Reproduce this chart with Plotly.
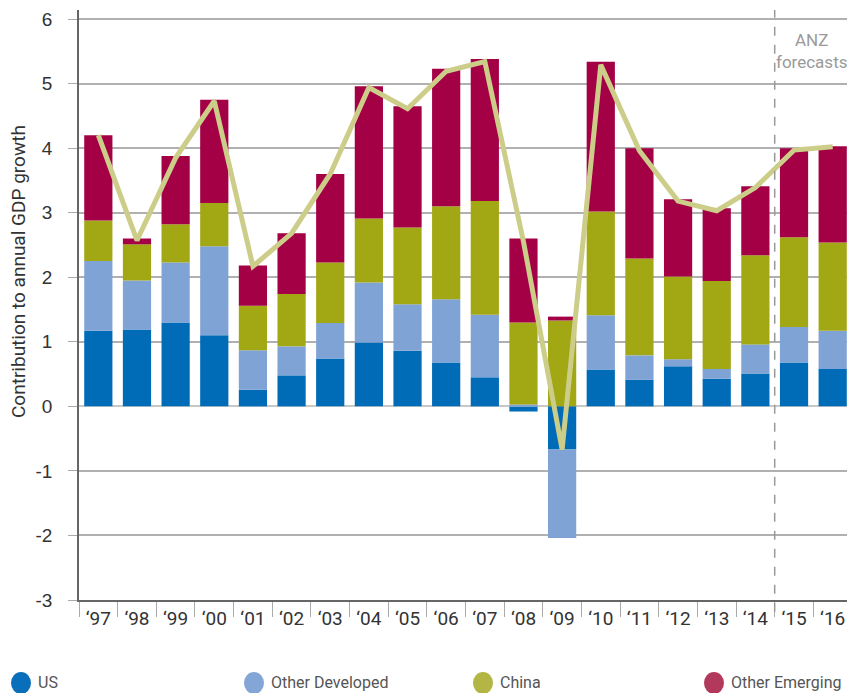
import plotly.graph_objects as go

years = ["‘97", "‘98", "‘99", "‘00", "‘01", "‘02", "‘03", "‘04", "‘05", "‘06",
         "‘07", "‘08", "‘09", "‘10", "‘11", "‘12", "‘13", "‘14", "‘15", "‘16"]

us = [1.17, 1.19, 1.30, 1.10, 0.26, 0.48, 0.74, 0.99, 0.86, 0.68,
      0.45, -0.08, -0.67, 0.57, 0.41, 0.62, 0.43, 0.51, 0.68, 0.58]
other_dev = [1.08, 0.76, 0.93, 1.38, 0.61, 0.45, 0.55, 0.93, 0.72, 0.98,
             0.97, 0.03, -1.37, 0.84, 0.38, 0.11, 0.15, 0.45, 0.55, 0.59]
china = [0.63, 0.56, 0.59, 0.67, 0.69, 0.81, 0.94, 0.99, 1.19, 1.44,
         1.76, 1.27, 1.33, 1.61, 1.50, 1.28, 1.36, 1.38, 1.39, 1.37]
other_em = [1.32, 0.09, 1.06, 1.60, 0.62, 0.94, 1.37, 2.05, 1.88, 2.13,
            2.20, 1.30, 0.06, 2.32, 1.71, 1.20, 1.13, 1.07, 1.38, 1.49]
world = [4.20, 2.57, 3.85, 4.73, 2.17, 2.68, 3.60, 4.94, 4.61, 5.19,
         5.34, 2.55, -0.67, 5.29, 3.96, 3.18, 3.03, 3.39, 3.97, 4.02]

y_ticks = [-3, -2, -1, 0, 1, 2, 3, 4, 5, 6]
y_tick_text = ["-3", "-2", "-1", "0", "1", "2", "3", "4", "5", "6"]

series = [("US", us, "#006bb6", "#0a6fba"),
          ("Other Developed", other_dev, "#7fa3d5", "#83a6d6"),
          ("China", china, "#a2a714", "#b3b645"),
          ("Other Emerging", other_em, "#a30046", "#b3395c")]

font_main = "Roboto, Lato, sans-serif"

# page body has an 8px margin: shrink figure so the plot lands where the reference has it
W, H = 847, 685
ML, MR, MT, MB = 71, 3, 2, 93
PW = W - ML - MR
PH = H - MT - MB
X0S, Y0S = 79, 600  # screen position of plot-area bottom-left


def px_x(sx):
    return (sx - X0S) / PW


def px_y(sy):
    return (Y0S - sy) / PH


fig = go.Figure()
for name, vals, col, _ in series:
    fig.add_trace(go.Bar(x=years, y=vals, name=name, marker_color=col,
                         marker_line_width=0, showlegend=False))

fig.add_trace(go.Scatter(x=years, y=world, mode="lines",
                         line=dict(color="#cdcd8a", width=5),
                         showlegend=False, hoverinfo="skip"))

# legend drawn as circles + text
legend_cx = [21, 254, 483, 714]
legend_cy = 683
for (name, vals, col, lcol), cx in zip(series, legend_cx):
    fig.add_shape(type="circle", xref="paper", yref="paper",
                  x0=px_x(cx - 10), x1=px_x(cx + 10),
                  y0=px_y(legend_cy + 11), y1=px_y(legend_cy - 11),
                  fillcolor=lcol, line=dict(width=0))
    fig.add_annotation(x=px_x(cx + 15), y=px_y(legend_cy), xref="paper", yref="paper",
                       text=name, showarrow=False, xanchor="left", yanchor="middle",
                       font=dict(family=font_main, size=16, color="#555555"))

fig.add_shape(type="line", xref="x", yref="paper", x0=17.5, x1=17.5, y0=-0.02, y1=1,
              line=dict(color="#999999", width=1.5, dash="dash"))

fig.add_annotation(x=18.45, y=5.5, xref="x", yref="y", text="ANZ<br>forecasts",
                   showarrow=False, font=dict(family=font_main, size=17, color="#9a9a9a"),
                   align="center")

fig.add_annotation(x=px_x(18), y=px_y(272), xref="paper", yref="paper",
                   text="Contribution to annual GDP growth", textangle=-90,
                   showarrow=False, xanchor="center", yanchor="middle",
                   font=dict(family=font_main, size=19, color="#333333"))

fig.update_layout(
    width=W, height=H,
    barmode="relative", bargap=0.27,
    plot_bgcolor="white", paper_bgcolor="white",
    margin=dict(l=ML, r=MR, t=MT, b=MB, autoexpand=False),
    font=dict(family=font_main, color="#333333"),
    showlegend=False,
)

fig.update_xaxes(type="category", showgrid=False, ticks="outside", tickson="boundaries",
                 ticklen=15, tickcolor="#aaaaaa", tickwidth=1, automargin=False,
                 showline=True, linecolor="#666666", linewidth=1.5,
                 tickfont=dict(family=font_main, size=19, color="#333333"),
                 range=[-0.5, 19.5])

fig.update_yaxes(range=[-3, 6.14], tickvals=y_ticks, ticktext=y_tick_text, showgrid=True,
                 gridcolor="#b0b0b0", gridwidth=1.5, zeroline=True,
                 zerolinecolor="#c8c8c8", zerolinewidth=2, automargin=False,
                 showline=True, linecolor="#666666", linewidth=1.5,
                 ticks="outside", ticklen=9, tickcolor="#aaaaaa", ticklabelstandoff=12,
                 tickfont=dict(family="Liberation Sans, Arial, sans-serif", size=19, color="#333333"))

fig.write_html("out.html")
